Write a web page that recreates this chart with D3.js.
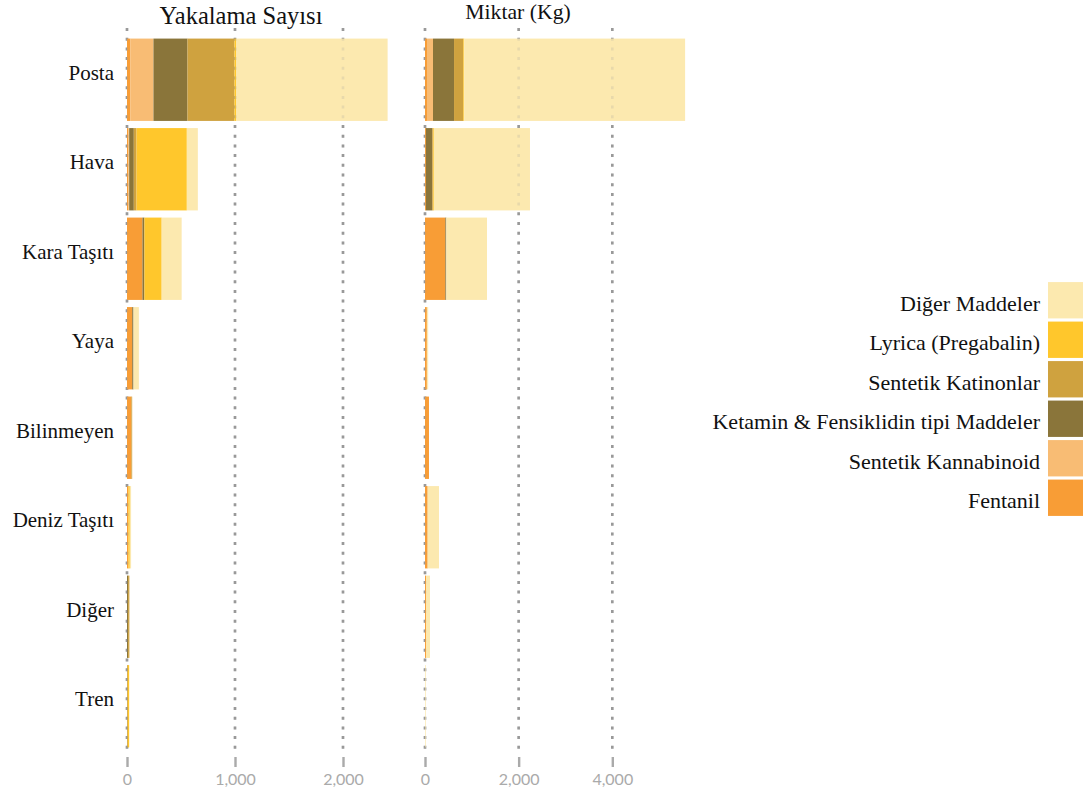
<!DOCTYPE html>
<html><head><meta charset="utf-8">
<script src="https://cdn.jsdelivr.net/npm/d3@7"></script>
<style>
html,body{margin:0;padding:0;background:#fff;}
svg{display:block;}
.serif{font-family:"Liberation Serif","DejaVu Serif","Times New Roman",Times,serif;}
</style></head>
<body>
<svg id="chart" width="1083" height="791"></svg>
<script>
// ---- data ----
const categories = ["Posta","Hava","Kara Taşıtı","Yaya","Bilinmeyen","Deniz Taşıtı","Diğer","Tren"];
const substances = ["Fentanil","Sentetik Kannabinoid","Ketamin & Fensiklidin tipi Maddeler","Sentetik Katinonlar","Lyrica (Pregabalin)","Diğer Maddeler"];
const legendOrder = ["Diğer Maddeler","Lyrica (Pregabalin)","Sentetik Katinonlar","Ketamin & Fensiklidin tipi Maddeler","Sentetik Kannabinoid","Fentanil"];
const colors = ["#F89D36","#F8BC74","#8A753A","#CFA23F","#FFC72C","#FCE9AF"];

// Yakalama Sayısı (seizure counts), per category, one array per substance
const countFentanil    = [30, 12, 143, 48, 40, 12, 0, 0];
const countKannabinoid = [215, 8, 0, 0, 0, 0, 0, 0];
const countKetamin     = [315, 43, 18, 12, 0, 0, 10, 0];
const countKatinon     = [435, 25, 0, 0, 8, 0, 12, 8];
const countLyrica      = [18, 466, 160, 0, 0, 14, 0, 12];
const countDiger       = [1400, 102, 185, 50, 0, 12, 0, 0];

// Miktar (Kg)
const kgFentanil    = [43, 20, 434, 40, 85, 57, 21, 0];
const kgKannabinoid = [128, 0, 0, 0, 0, 0, 0, 0];
const kgKetamin     = [449, 135, 21, 0, 0, 0, 0, 0];
const kgKatinon     = [199, 20, 0, 0, 0, 0, 0, 0];
const kgLyrica      = [20, 16, 0, 0, 0, 0, 0, 0];
const kgDiger       = [4716, 2051, 869, 28, 0, 242, 85, 15];

const countTicks = [0, 1000, 2000];
const kgTicks = [0, 2000, 4000];
const panelTitles = ["Yakalama Sayısı", "Miktar (Kg)"];

// ---- build tables ----
function table(arrs){
  return categories.map((c,i)=>{
    const o = {cat:c};
    substances.forEach((s,j)=>{ o[s] = arrs[j][i]; });
    return o;
  });
}
const countRows = table([countFentanil,countKannabinoid,countKetamin,countKatinon,countLyrica,countDiger]);
const kgRows = table([kgFentanil,kgKannabinoid,kgKetamin,kgKatinon,kgLyrica,kgDiger]);

const svg = d3.select("#chart");
const color = d3.scaleOrdinal().domain(substances).range(colors);

const y = d3.scaleBand().domain(categories).range([35, 751]).paddingInner(0.08).paddingOuter(0.04);

const xCount = d3.scaleLinear().domain([0, 2000]).range([127, 343]);
const xKg = d3.scaleLinear().domain([0, 4000]).range([425, 612.3]);

const stack = d3.stack().keys(substances);

const gridTop = 28, gridBottom = 752;

function panel(rows, x, ticks, title, titleX, titleY, titleSize){
  const g = svg.append("g");
  const grid = g.append("g");
  grid.selectAll("line").data(ticks).join("line")
    .attr("x1", d=>x(d)).attr("x2", d=>x(d))
    .attr("y1", gridTop).attr("y2", gridBottom)
    .attr("stroke", "#999999").attr("stroke-width", 2.6)
    .attr("stroke-dasharray", "3,6.7");
  const series = stack(rows);
  g.append("g").selectAll("g").data(series).join("g")
    .attr("fill", d=>color(d.key))
    .selectAll("rect").data(d=>d).join("rect")
      .attr("x", d=>x(d[0]))
      .attr("width", d=>Math.max(0, x(d[1]) - x(d[0])))
      .attr("y", d=>y(d.data.cat))
      .attr("height", y.bandwidth());
  g.append("g").selectAll("line").data(ticks).join("line")
    .attr("x1", d=>x(d)).attr("x2", d=>x(d))
    .attr("y1", gridTop).attr("y2", gridBottom)
    .attr("stroke", "#999999").attr("stroke-width", 2.6)
    .attr("stroke-opacity", 0.2)
    .attr("stroke-dasharray", "3,6.7");
  const axis = d3.axisBottom(x).tickValues(ticks).tickFormat(d3.format(",")).tickSize(10).tickPadding(7);
  const ag = g.append("g").attr("transform", "translate(0,757)").call(axis);
  ag.select(".domain").remove();
  ag.selectAll(".tick line").attr("stroke", "#aaaaaa").attr("stroke-width", 2.4);
  ag.selectAll(".tick text").attr("fill", "#aaaaaa")
    .style("font-family", "Lato, 'Open Sans', sans-serif").style("font-size", "16px");
  svg.append("text").attr("class","serif").attr("x", titleX).attr("y", titleY)
    .attr("text-anchor", "middle")
    .style("font-size", titleSize + "px").attr("fill", "#111")
    .text(title);
}

panel(countRows, xCount, countTicks, panelTitles[0], 241, 24, 24.5);
panel(kgRows, xKg, kgTicks, panelTitles[1], 518, 19, 21.7);

svg.append("g").selectAll("text").data(categories).join("text")
  .attr("class","serif")
  .attr("x", 114)
  .attr("y", d=>y(d) + y.bandwidth()/2 - 7)
  .attr("text-anchor", "end")
  .attr("dominant-baseline", "central")
  .style("font-size", "21px").attr("fill", "#111")
  .text(d=>d);

const legY = d3.scaleBand().domain(legendOrder).range([280.5, 517.5]).paddingInner(0.08).paddingOuter(0.04);
const leg = svg.append("g");
leg.selectAll("rect").data(legendOrder).join("rect")
  .attr("x", 1048).attr("width", 36)
  .attr("y", d=>legY(d)).attr("height", legY.bandwidth())
  .attr("fill", d=>color(d));
leg.selectAll("text").data(legendOrder).join("text")
  .attr("class","serif")
  .attr("x", 1040)
  .attr("y", d=>legY(d) + legY.bandwidth()/2 + 3)
  .attr("text-anchor", "end")
  .attr("dominant-baseline", "central")
  .style("font-size", "22px").attr("fill", "#111")
  .text(d=>d);
</script>
</body></html>
